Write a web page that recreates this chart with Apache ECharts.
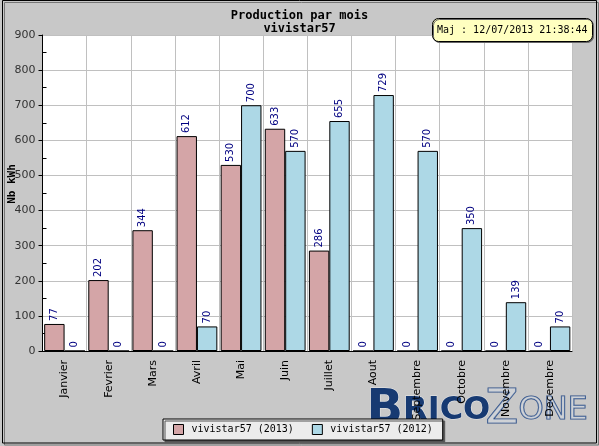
<!DOCTYPE html>
<html>
<head>
<meta charset="utf-8">
<script src="https://cdn.jsdelivr.net/npm/echarts@6/dist/echarts.min.js"></script>
<style>
  html, body { margin: 0; padding: 0; background: #c8c8c8; }
  #chart { width: 599px; height: 446px; }
</style>
</head>
<body>
<div id="chart"></div>
<script>
// donnees
const mois = ['Janvier', 'Fevrier', 'Mars', 'Avril', 'Mai', 'Juin', 'Juillet', 'Aout', 'Septembre', 'Octobre', 'Novembre', 'Decembre'];
const prod2013 = [77, 202, 344, 612, 530, 633, 286, 0, 0, 0, 0, 0];
const prod2012 = [0, 0, 0, 70, 700, 570, 655, 729, 570, 350, 139, 70];
const nomSeries = ['vivistar57 (2013)', 'vivistar57 (2012)'];
// positions des petites graduations (tous les 50)
const petitesGrad = [];
for (let v = 0; v <= 900; v += 50) petitesGrad.push(v);

const mono = 'DejaVu Sans Mono';
const sans = 'DejaVu Sans';

const barLabel = {
    show: true,
    position: 'top',
    rotate: 90,
    align: 'left',
    verticalAlign: 'middle',
    distance: 3,
    color: '#000080',
    fontFamily: sans,
    fontSize: 10
};

const chart = echarts.init(document.getElementById('chart'));
chart.setOption({
    backgroundColor: '#c8c8c8',
    animation: false,
    title: [
        {
            text: 'Production par mois\nvivistar57',
            left: 'center',
            top: 4,
            textStyle: { fontFamily: mono, fontWeight: 'bold', fontSize: 12, lineHeight: 13, color: '#000' }
        },
        {
            text: 'Maj : 12/07/2013 21:38:44',
            left: 432,
            top: 18,
            padding: [6, 5],
            backgroundColor: '#ffffc0',
            borderColor: '#000',
            borderWidth: 1,
            borderRadius: 6,
            shadowColor: '#666',
            shadowOffsetX: 1,
            shadowOffsetY: 1,
            textStyle: { fontFamily: mono, fontWeight: 'normal', fontSize: 10, lineHeight: 12, color: '#000' }
        }
    ],
    legend: {
        left: 163,
        top: 419,
        padding: [5, 10],
        itemGap: 18,
        itemWidth: 10,
        itemHeight: 10,
        icon: 'rect',
        backgroundColor: '#ececec',
        borderColor: '#000',
        borderWidth: 1,
        shadowColor: '#555',
        shadowOffsetX: 2,
        shadowOffsetY: 2,
        itemStyle: { borderColor: '#000', borderWidth: 1 },
        textStyle: { fontFamily: mono, fontSize: 10, color: '#000', padding: [0, 0, 0, 3] },
        data: nomSeries
    },
    grid: {
        left: 42.5, right: 27, top: 35, bottom: 95,
        outerBoundsMode: 'none', containLabel: false,
        backgroundColor: '#fff', show: true, borderWidth: 0
    },
    xAxis: {
        type: 'category',
        data: mois,
        axisLine: { lineStyle: { color: '#000', width: 1 } },
        axisTick: { inside: true, length: 4, lineStyle: { color: '#000', width: 2 } },
        axisLabel: { rotate: 90, margin: 9, fontFamily: sans, fontSize: 11, color: '#000' },
        splitLine: { show: true, lineStyle: { color: '#c0c0c0', width: 1 } }
    },
    yAxis: [
        {
            type: 'value',
            min: 0,
            max: 900,
            interval: 100,
            name: 'Nb kWh',
            nameLocation: 'middle',
            nameGap: 25,
            nameMoveOverlap: false,
            nameTextStyle: { fontFamily: mono, fontWeight: 'bold', fontSize: 11, color: '#000', padding: [0, 0, 0, 18] },
            axisLine: { show: true, lineStyle: { color: '#000', width: 1 } },
            axisTick: { show: true, length: 4, lineStyle: { color: '#000' } },
            axisLabel: { margin: 7, fontFamily: sans, fontSize: 11, color: '#333' },
            splitLine: { show: true, lineStyle: { color: '#c0c0c0', width: 1 } }
        },
        {
            type: 'category',
            data: petitesGrad,
            boundaryGap: false,
            position: 'left',
            axisLine: { show: false },
            axisTick: { show: true, inside: true, length: 4, interval: function (i) { return i % 2 === 1; }, lineStyle: { color: '#000' } },
            axisLabel: { show: false },
            splitLine: { show: false }
        }
    ],
    series: [
        {
            name: nomSeries[0],
            type: 'bar',
            data: prod2013,
            barWidth: 20.4,
            barGap: '0%',
            itemStyle: { color: '#d4a5a7', borderColor: '#000', borderWidth: 1 },
            label: barLabel
        },
        {
            name: nomSeries[1],
            type: 'bar',
            data: prod2012,
            barWidth: 20.4,
            barGap: '0%',
            itemStyle: { color: '#add8e6', borderColor: '#000', borderWidth: 1 },
            label: barLabel
        }
    ],
    graphic: [
        {
            type: 'rect',
            shape: { x: 2.5, y: 0.5, width: 594, height: 442.5 },
            style: { fill: 'none', stroke: '#000', lineWidth: 1, shadowColor: '#777', shadowOffsetX: 2, shadowOffsetY: 2 },
            silent: true
        },
        {
            type: 'text',
            left: 366,
            top: 386,
            silent: true,
            style: {
                text: '{g|B}{p|RICO}',
                rich: {
                    g: { fontFamily: sans, fontWeight: 'bold', fontSize: 48, fill: '#173a72', stroke: 'rgba(255,255,255,0.6)', lineWidth: 1 },
                    p: { fontFamily: sans, fontWeight: 'bold', fontSize: 32, fill: '#173a72', stroke: 'rgba(255,255,255,0.6)', lineWidth: 1 }
                },
                verticalAlign: 'top'
            }
        },
        {
            type: 'text',
            left: 485,
            top: 386,
            silent: true,
            style: {
                text: '{g|Z}{p|ONE}',
                rich: {
                    g: { fontFamily: sans, fontSize: 48, fill: 'rgba(220,228,240,0.35)', stroke: '#2b4d85', lineWidth: 1.2 },
                    p: { fontFamily: sans, fontSize: 32, fill: 'rgba(220,228,240,0.35)', stroke: '#2b4d85', lineWidth: 1.2 }
                },
                verticalAlign: 'top'
            }
        }
    ]
});
</script>
</body>
</html>
